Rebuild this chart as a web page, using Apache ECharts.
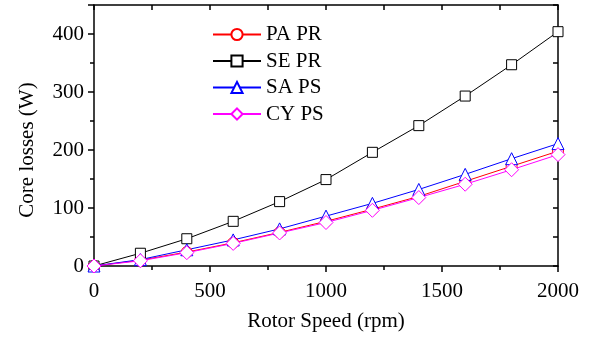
<!DOCTYPE html>
<html>
<head>
<meta charset="utf-8">
<script src="https://cdn.jsdelivr.net/npm/echarts@6/dist/echarts.min.js"></script>
<style>html,body{margin:0;padding:0;background:#fff}#c{width:591px;height:338px}</style>
</head>
<body>
<div id="c"></div>
<script>
var speeds = [0, 200, 400, 600, 800, 1000, 1200, 1400, 1600, 1800, 2000];
var paPr = [0, 10, 24, 40, 58, 77, 98, 120, 146, 172, 198];
var sePr = [0, 22, 47, 77, 111, 149, 196, 242, 293, 347, 404];
var saPs = [0, 11, 28, 45, 64, 86, 108, 132, 158, 185, 211];
var cyPs = [0, 9, 23, 39, 57, 75, 96, 118, 141, 166, 192];
var seriesNames = ['PA PR', 'SE PR', 'SA PS', 'CY PS'];
var xTicks = {min: 0, max: 2000, interval: 500};
var yTicks = {min: 0, max: 450, interval: 100};

function pairs(v) { return speeds.map(function (s, i) { return [s, v[i]]; }); }
var font = 'Liberation Serif, Times New Roman, serif';
var fs = 21;
var axisLine = {show: true, onZero: false, lineStyle: {color: '#000', width: 1.5}};
function plain(v) { return String(v); }

var chart = echarts.init(document.getElementById('c'), null, {renderer: 'canvas'});
function mkSeries(name, vals, color, symbol, size) {
  return {
    name: name, type: 'line', data: pairs(vals), symbol: symbol, symbolSize: size,
    lineStyle: {color: color, width: 1},
    itemStyle: {color: '#fff', borderColor: color, borderWidth: 1},
    emphasis: {disabled: true}, animation: false, z: 3
  };
}
chart.setOption({
  animation: false,
  backgroundColor: '#fff',
  grid: {left: 94, right: 33, top: 5, bottom: 72},
  legend: {
    orient: 'vertical', left: 212, top: 24, padding: 0, itemWidth: 48, itemHeight: 14, itemGap: 5.5,
    textStyle: {fontFamily: font, fontSize: fs, color: '#000'},
    data: seriesNames
  },
  xAxis: [{
    type: 'value', min: xTicks.min, max: xTicks.max, interval: xTicks.interval,
    name: 'Rotor Speed (rpm)', nameLocation: 'middle', nameGap: 45,
    nameTextStyle: {fontFamily: font, fontSize: fs, color: '#000'},
    axisLine: axisLine,
    axisTick: {show: true, inside: false, length: 6, lineStyle: {color: '#000', width: 1.5}},
    minorTick: {show: true, splitNumber: 2, length: 4, lineStyle: {color: '#000', width: 1.5}},
    axisLabel: {fontFamily: font, fontSize: fs, color: '#000', margin: 15, formatter: plain},
    splitLine: {show: false}
  }, {
    type: 'value', position: 'top', min: xTicks.min, max: xTicks.max, interval: xTicks.interval,
    axisLine: axisLine,
    axisTick: {show: true, inside: true, length: 5, lineStyle: {color: '#000', width: 1.5}},
    minorTick: {show: true, splitNumber: 2, length: 5, lineStyle: {color: '#000', width: 1.5}},
    axisLabel: {show: false}, splitLine: {show: false}
  }],
  yAxis: [{
    type: 'value', min: yTicks.min, max: yTicks.max, interval: yTicks.interval,
    name: 'Core losses (W)', nameLocation: 'middle', nameGap: 56,
    nameTextStyle: {fontFamily: font, fontSize: fs, color: '#000', padding: [0, 29, 0, 0]},
    axisLine: axisLine,
    axisTick: {show: true, inside: false, length: 6, lineStyle: {color: '#000', width: 1.5}},
    minorTick: {show: true, splitNumber: 2, length: 4, lineStyle: {color: '#000', width: 1.5}},
    axisLabel: {fontFamily: font, fontSize: fs, color: '#000', margin: 10, showMaxLabel: false, formatter: plain},
    splitLine: {show: false}
  }, {
    type: 'value', position: 'right', min: yTicks.min, max: yTicks.max, interval: yTicks.interval,
    axisLine: axisLine,
    axisTick: {show: true, inside: true, length: 5, lineStyle: {color: '#000', width: 1.5}},
    minorTick: {show: true, splitNumber: 2, length: 5, lineStyle: {color: '#000', width: 1.5}},
    axisLabel: {show: false}, splitLine: {show: false}
  }],
  series: [
    mkSeries(seriesNames[0], paPr, '#ff0000', 'circle', 11),
    mkSeries(seriesNames[1], sePr, '#000000', 'rect', 10),
    mkSeries(seriesNames[2], saPs, '#0000ff', 'triangle', 12),
    mkSeries(seriesNames[3], cyPs, '#ff00ff', 'diamond', 14)
  ]
});
</script>
</body>
</html>
